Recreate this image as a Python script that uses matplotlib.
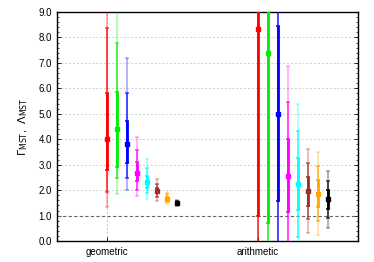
#!/usr/bin/env python3
"""
Nested percentile error bars of Gamma_MST / Lambda_MST for geometric and arithmetic means.
"""

import matplotlib
matplotlib.use("Agg")
import matplotlib.pyplot as plt
from matplotlib.ticker import MultipleLocator, FormatStrFormatter

plt.rcParams['font.family'] = ['Liberation Sans', 'DejaVu Sans']

categories = ["geometric", "arithmetic"]
colors = ["#ff0000", "#00ee00", "#0000ff", "#ff00ff", "#00ffff", "#a52a2a", "#ffa500", "#000000"]

# per series: outer_lo, mid_lo, inner_lo, median, inner_hi, mid_hi, outer_hi
geometric = [
    [1.34, 1.93, 2.79, 4.01, 5.82, 8.38, 12.0],
    [1.85, 2.47, 2.92, 4.41, 5.86, 7.80, 11.0],
    [2.01, 2.47, 3.08, 3.82, 4.71, 5.83, 7.21],
    [1.76, 2.01, 2.35, 2.69, 3.10, 3.56, 4.09],
    [1.67, 1.87, 2.07, 2.32, 2.57, 2.89, 3.23],
    [1.57, 1.72, 1.87, 1.97, 2.08, 2.25, 2.43],
    [1.45, 1.52, 1.58, 1.65, 1.75, 1.83, 1.92],
    [1.38, 1.42, 1.45, 1.50, 1.54, 1.58, 1.62],
]
arithmetic = [
    [-13.0, -6.0, 0.98, 8.34, 15.0, 22.0, 30.0],
    [-12.0, -5.9, 0.72, 7.38, 14.0, 20.0, 27.0],
    [-5.3, -1.9, 1.59, 5.01, 8.46, 11.9, 15.4],
    [-1.75, -0.31, 1.13, 2.57, 4.00, 5.45, 6.89],
    [-0.87, 0.17, 1.22, 2.24, 3.28, 4.31, 5.38],
    [0.30, 0.86, 1.39, 1.95, 2.50, 3.05, 3.61],
    [0.22, 0.78, 1.32, 1.86, 2.39, 2.96, 3.49],
    [0.53, 0.89, 1.26, 1.64, 1.99, 2.37, 2.74],
]

fig = plt.figure(figsize=(3.74, 2.62), dpi=100)
ax = fig.add_axes([0.152, 0.080, 0.805, 0.874])

offset = 0.066
for j, data in enumerate([geometric, arithmetic]):
    for i, row in enumerate(data):
        x = j + 1 + i * offset
        c = colors[i]
        olo, mlo, ilo, med, ihi, mhi, ohi = row
        levels = [(olo, ohi, 0.35, 1.2), (mlo, mhi, 0.7, 1.2), (ilo, ihi, 1.0, 2.0)]
        for lo, hi, a, lw in levels:
            ax.errorbar([x], [med], yerr=[[med - lo], [hi - med]], fmt='none',
                        ecolor=c, elinewidth=lw, capsize=1.3, capthick=1.1,
                        alpha=a, zorder=3)
        ax.plot([x], [med], 's', color=c, markersize=2.5, zorder=4)

ax.axhline(1.0, color='#666666', lw=0.8, ls=(0, (3, 2)), zorder=2)
for yv in range(1, 10):
    if yv != 1:
        ax.axhline(yv, color='#d0d0d0', lw=0.7, ls=(0, (2, 2)), zorder=1)
for xv in [1, 2]:
    ax.axvline(xv, color='#c0c0c0', lw=0.7, ls=(0, (2, 2)), zorder=1)

ax.set_xlim(0.669, 2.662)
ax.set_ylim(0, 9)
ax.set_xticks([1, 2])
ax.set_xticklabels(categories, fontsize=7)
ax.yaxis.set_major_locator(MultipleLocator(1.0))
ax.yaxis.set_minor_locator(MultipleLocator(0.2))
ax.yaxis.set_major_formatter(FormatStrFormatter('%.1f'))
ax.tick_params(axis='y', which='both', direction='in', right=True, labelsize=7)
ax.tick_params(axis='y', which='major', length=3, width=0.6)
ax.tick_params(axis='y', which='minor', length=1.5, width=0.5)
ax.tick_params(axis='x', direction='in', length=3, width=0.6, pad=4)
for s in ax.spines.values():
    s.set_linewidth(1.0)

ax.set_ylabel(r'$\Gamma_{\mathsf{MST}}$,  $\Lambda_{\mathsf{MST}}$', fontsize=8, labelpad=6)

fig.savefig("out.png", dpi=100)
